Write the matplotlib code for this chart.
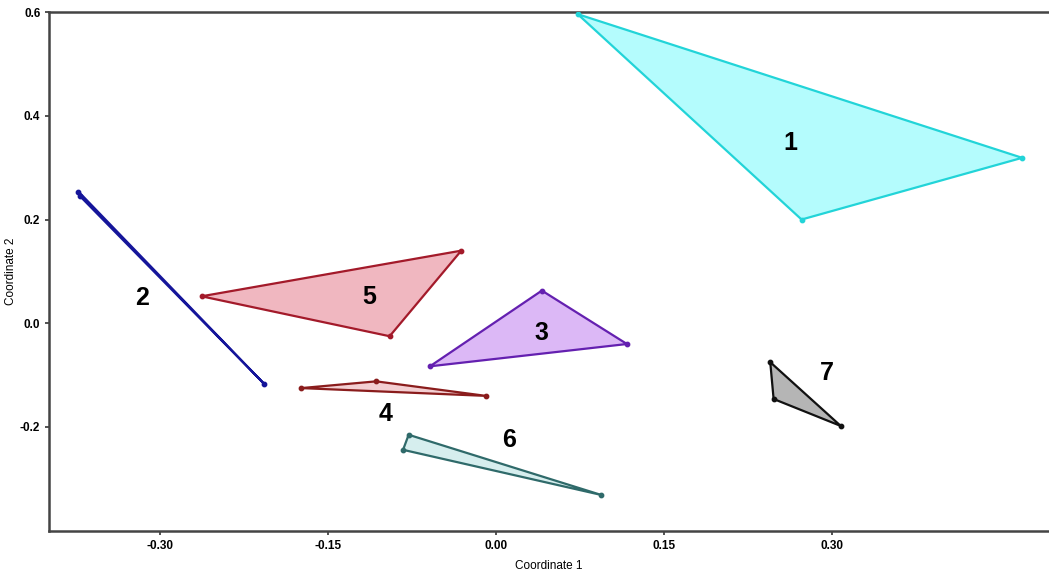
import matplotlib
matplotlib.use("Agg")
import matplotlib.pyplot as plt
from matplotlib.patches import Polygon

plt.rcParams['font.family'] = ['Liberation Sans', 'DejaVu Sans']

# hull vertices of each group (coordinate 1, coordinate 2)
group_ids = ["1", "2", "3", "4", "5", "6", "7"]
hull_x = {
    "1": [0.073, 0.470, 0.273],
    "2": [-0.373, -0.372, -0.207],
    "3": [0.041, 0.117, -0.059],
    "4": [-0.174, -0.107, -0.009],
    "5": [-0.263, -0.031, -0.095],
    "6": [-0.078, -0.083, 0.094],
    "7": [0.245, 0.248, 0.308],
}
hull_y = {
    "1": [0.596, 0.319, 0.200],
    "2": [0.254, 0.246, -0.117],
    "3": [0.063, -0.040, -0.083],
    "4": [-0.125, -0.112, -0.140],
    "5": [0.052, 0.140, -0.025],
    "6": [-0.215, -0.244, -0.331],
    "7": [-0.075, -0.146, -0.198],
}
# where the group number is written
label_x = [0.263, -0.316, 0.041, -0.099, -0.113, 0.012, 0.296]
label_y = [0.348, 0.048, -0.018, -0.175, 0.050, -0.226, -0.095]

edge_colors = ["#22d4d8", "#15159a", "#6420b0", "#8a1c1c", "#a31a2a", "#2f6a6a", "#111111"]
fill_colors = ["#b4fcfd", "#8a8ae0", "#dcb8f6", "#f3cfd2", "#f0b7c0", "#d6eeee", "#b5b5b5"]

fig = plt.figure(figsize=(10.49, 5.75), dpi=100)
ax = fig.add_axes([0.047, 0.077, 0.953, 0.902])

for i, g in enumerate(group_ids):
    pts = list(zip(hull_x[g], hull_y[g]))
    ax.add_patch(Polygon(pts, closed=True, facecolor=fill_colors[i],
                         edgecolor=edge_colors[i], linewidth=1.6, zorder=2))
    ax.scatter(hull_x[g], hull_y[g], s=10, color=edge_colors[i], zorder=3)
    ax.text(label_x[i], label_y[i], g, fontsize=18, fontweight="bold",
            ha="center", va="center", color="black", zorder=4)

ax.set_xlim(-0.399, 0.494)
ax.set_ylim(-0.4, 0.6)
ax.set_xticks([-0.30, -0.15, 0.00, 0.15, 0.30])
ax.set_xticklabels(["-0.30", "-0.15", "0.00", "0.15", "0.30"])
ax.set_yticks([-0.2, 0.0, 0.2, 0.4, 0.6])
ax.set_yticklabels(["-0.2", "0.0", "0.2", "0.4", "0.6"])
ax.tick_params(labelsize=8.5, length=3, width=1.2, color="#333333")
for lbl in ax.get_xticklabels() + ax.get_yticklabels():
    lbl.set_fontweight("bold")
ax.set_xlabel("Coordinate 1", fontsize=8.5, labelpad=6)
ax.set_ylabel("Coordinate 2", fontsize=8.5, labelpad=2)

for side in ["left", "bottom", "top"]:
    ax.spines[side].set_linewidth(1.8)
    ax.spines[side].set_color("#444444")
ax.spines["right"].set_visible(False)

fig.savefig("out.png", dpi=100)
